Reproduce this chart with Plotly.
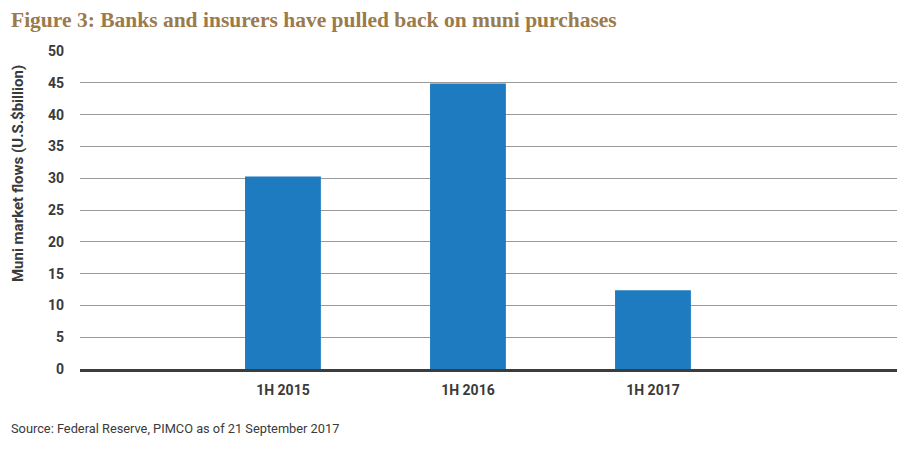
import plotly.graph_objects as go

# data
periods = ['1H 2015', '1H 2016', '1H 2017']
flows = [30.25, 44.9, 12.4]
y_ticks = [0, 5, 10, 15, 20, 25, 30, 35, 40, 45, 50]

title_txt = 'Figure 3: Banks and insurers have pulled back on muni purchases'
ytitle_txt = 'Muni market flows (U.S.$billion)'
source_txt = 'Source: Federal Reserve, PIMCO as of 21 September 2017'

lab_font = 'Roboto, sans-serif'

fig = go.Figure()
fig.add_trace(go.Bar(x=periods, y=flows, marker_color='#1f7bbf',
                     marker_line_width=0, width=0.41))

# page body has an 8px margin, so margins are shifted to compensate
fig.update_layout(
    width=906, height=453,
    margin=dict(l=72, r=17, t=43, b=92),
    plot_bgcolor='white', paper_bgcolor='white',
    showlegend=False,
    font=dict(family=lab_font, color='#3a3a3a'),
)

fig.update_xaxes(
    type='category', range=[-1.097, 3.319], automargin=False,
    showgrid=False, showline=True, linecolor='#3c3c3c', linewidth=3,
    ticks='', tickfont=dict(size=14, family=lab_font, color='#3a3a3a', weight='bold'),
    ticklabelstandoff=6,
)
fig.update_yaxes(
    range=[0, 50], tickvals=y_ticks, automargin=False,
    showgrid=True, gridcolor='#9a9a9a', gridwidth=1.3,
    zeroline=False, showline=False, ticks='',
    tickfont=dict(size=14, family=lab_font, color='#3a3a3a', weight='bold'),
    ticklabelstandoff=15,
)

fig.add_annotation(text='<b>' + title_txt + '</b>', xref='paper', yref='paper',
                   x=-0.086, y=1.0975, xanchor='left', yanchor='middle',
                   showarrow=False, borderpad=0,
                   font=dict(size=21.5, family='Liberation Serif, serif', color='#9b7a4c'))
fig.add_annotation(text='<b>' + ytitle_txt + '</b>', xref='paper', yref='paper',
                   x=-0.076, y=0.616, xanchor='center', yanchor='middle',
                   textangle=-90, showarrow=False,
                   font=dict(size=15, family=lab_font, color='#3a3a3a'))
fig.add_annotation(text=source_txt, xref='paper', yref='paper',
                   x=-0.087, y=-0.186, xanchor='left', yanchor='middle',
                   showarrow=False,
                   font=dict(size=12.8, family=lab_font, color='#3a3a3a'))

fig.write_html('out.html')
